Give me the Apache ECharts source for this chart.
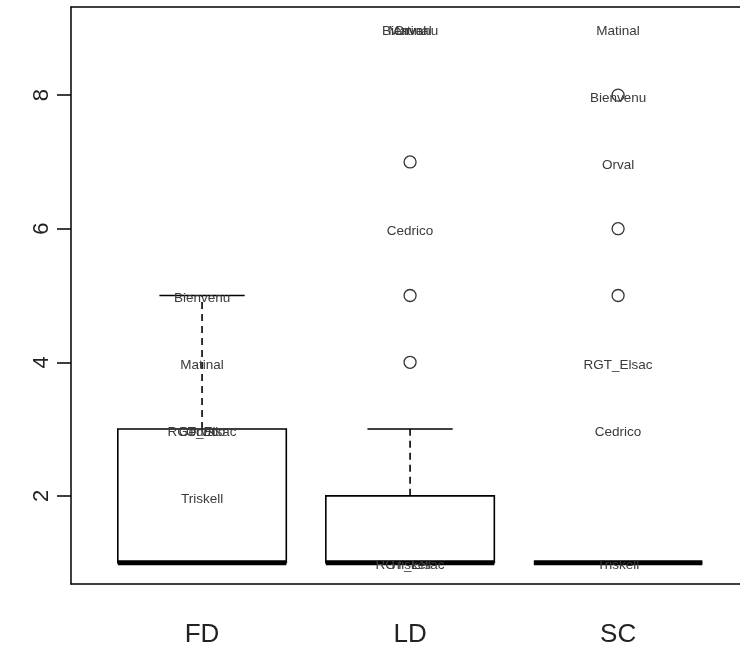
<!DOCTYPE html>
<html>
<head>
<meta charset="utf-8">
<script src="https://cdn.jsdelivr.net/npm/echarts@6/dist/echarts.min.js"></script>
<style>
  html, body { margin: 0; padding: 0; background: #fff; }
  #chart { width: 740px; height: 650px; }
</style>
</head>
<body>
<div id="chart"></div>
<script>
// Groups along the horizontal axis
const categories = ['FD', 'LD', 'SC'];

// Five-number summaries per group: lower whisker, Q1, median, Q3, upper whisker
const lowerWhisker = [1, 1, 1];
const q1Values     = [1, 1, 1];
const medians      = [1, 1, 1];
const q3Values     = [3, 2, 1];
const upperWhisker = [5, 3, 1];

// Outlying points: group index and value
const outlierGroup = [1, 1, 1, 2, 2, 2];
const outlierValue = [4, 5, 7, 5, 6, 8];

// Beer names written at their score inside each group
const labelGroup = [0, 0, 0, 0, 0, 0, 1, 1, 1, 1, 1, 1, 2, 2, 2, 2, 2, 2];
const labelValue = [5, 4, 3, 3, 3, 2, 9, 9, 9, 6, 1, 1, 9, 8, 7, 4, 3, 1];
const labelName  = ['Bienvenu', 'Matinal', 'RGT_Elsac', 'Cedrico', 'Orval', 'Triskell',
                    'Bienvenu', 'Matinal', 'Orval', 'Cedrico', 'RGT_Elsac', 'Triskell',
                    'Matinal', 'Bienvenu', 'Orval', 'RGT_Elsac', 'Cedrico', 'Triskell'];

// Y-axis tick marks
const yTicks = [2, 4, 6, 8];

const BOX_HALF = 0.405;
const STAPLE_HALF = 0.205;
const FONT = '"Liberation Sans", Arial, sans-serif';
const FRAME = { show: true, lineStyle: { color: '#000', width: 1.5 } };

const boxData = categories.map((c, i) => [i + 1, lowerWhisker[i], q1Values[i], medians[i], q3Values[i], upperWhisker[i]]);
const outlierData = outlierGroup.map((g, i) => [g + 1, outlierValue[i]]);
const labelData = labelGroup.map((g, i) => [g + 1, labelValue[i]]);

function renderBox(params, api) {
  const x = api.value(0);
  const lo = api.value(1), q1 = api.value(2), med = api.value(3), q3 = api.value(4), hi = api.value(5);
  const c = (a, b) => api.coord([a, b]);
  const line = (p0, p1, style) => ({
    type: 'line',
    shape: { x1: p0[0], y1: p0[1], x2: p1[0], y2: p1[1] },
    style: Object.assign({ stroke: '#000', lineWidth: 1.6 }, style)
  });
  const dash = { lineDash: [7, 5] };
  const tl = c(x - BOX_HALF, q3), br = c(x + BOX_HALF, q1);
  return {
    type: 'group',
    children: [
      line(c(x, q3), c(x, hi), dash),
      line(c(x, lo), c(x, q1), dash),
      line(c(x - STAPLE_HALF, hi), c(x + STAPLE_HALF, hi)),
      line(c(x - STAPLE_HALF, lo), c(x + STAPLE_HALF, lo)),
      {
        type: 'rect',
        shape: { x: tl[0], y: tl[1], width: br[0] - tl[0], height: br[1] - tl[1] },
        style: { fill: '#fff', stroke: '#000', lineWidth: 1.6 }
      },
      line(c(x - BOX_HALF, med), c(x + BOX_HALF, med), { lineWidth: 5 })
    ]
  };
}

// Beer name centred on its score, nudged a little below the point
function renderName(params, api) {
  const p = api.coord([api.value(0), api.value(1)]);
  return {
    type: 'text',
    x: p[0], y: p[1] + 3,
    style: {
      text: labelName[params.dataIndex],
      align: 'center', verticalAlign: 'middle',
      fontSize: 13.5, fontFamily: FONT, fill: '#3a3a3a'
    }
  };
}

const chart = echarts.init(document.getElementById('chart'), null, { renderer: 'canvas' });
chart.setOption({
  animation: false,
  backgroundColor: '#fff',
  // the plot frame runs past the right edge of the page, so only left, top and bottom sides are drawn
  grid: { left: 71, top: 7, right: 0, height: 577, show: false },
  xAxis: [
    {
      type: 'value', min: 0.37, max: 3.586, position: 'bottom',
      splitLine: { show: false },
      axisLine: FRAME,
      axisTick: { show: false },
      axisLabel: {
        customValues: [1, 2, 3],
        formatter: v => categories[Math.round(v) - 1],
        fontSize: 26, color: '#222', fontFamily: FONT, margin: 38
      }
    },
    {
      type: 'value', min: 0.37, max: 3.586, position: 'top',
      splitLine: { show: false },
      axisLine: FRAME,
      axisTick: { show: false },
      axisLabel: { show: false }
    }
  ],
  yAxis: {
    type: 'value', min: 0.68, max: 9.32,
    splitLine: { show: false },
    axisLine: FRAME,
    axisTick: { show: true, customValues: yTicks, length: 14, lineStyle: { color: '#000', width: 1.5 } },
    axisLabel: {
      customValues: yTicks, rotate: 90, fontSize: 22, color: '#222', fontFamily: FONT, margin: 18
    }
  },
  series: [
    {
      type: 'custom',
      renderItem: renderBox,
      data: boxData,
      encode: { x: 0, y: [1, 2, 3, 4, 5] },
      z: 2
    },
    {
      type: 'scatter',
      data: outlierData,
      symbol: 'circle',
      symbolSize: 12,
      itemStyle: { color: 'transparent', borderColor: '#000', borderWidth: 1.3 },
      z: 3
    },
    {
      type: 'custom',
      renderItem: renderName,
      data: labelData,
      encode: { x: 0, y: 1 },
      z: 4
    }
  ]
});
</script>
</body>
</html>
